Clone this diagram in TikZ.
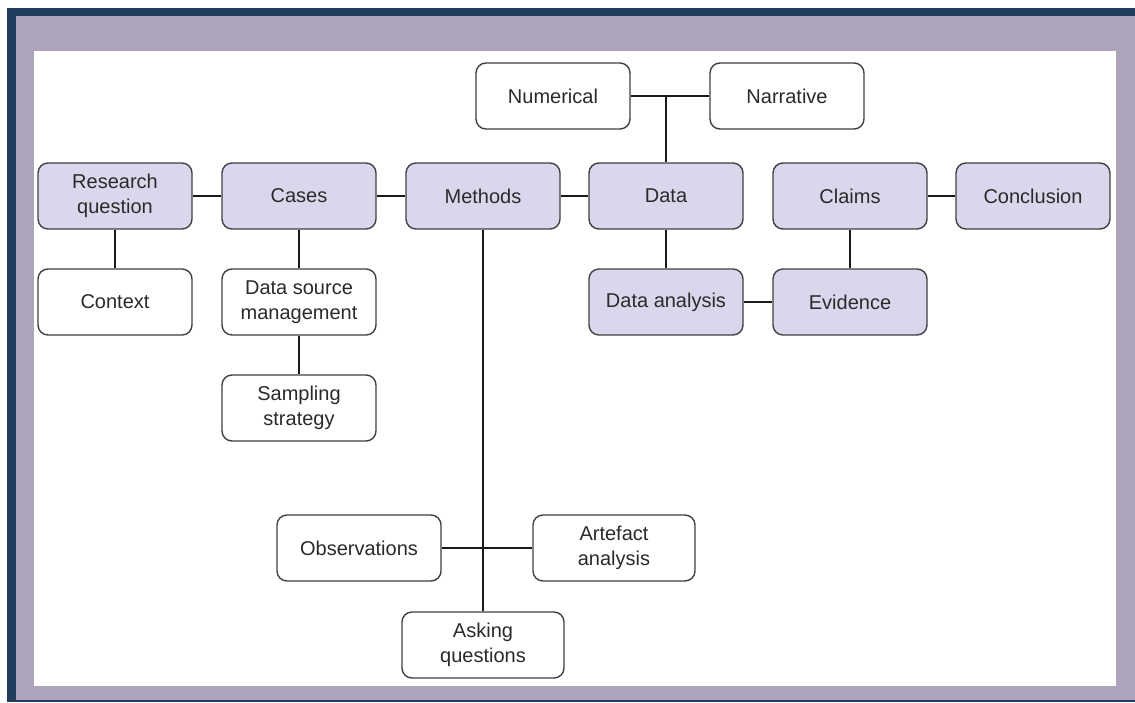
\documentclass[tikz,border=0pt]{standalone}
\usepackage{fontspec}
\setmainfont{Liberation Sans}
\definecolor{navy}{HTML}{223E5E}
\definecolor{framecol}{HTML}{ADA3BB}
\definecolor{keyfill}{HTML}{DCD6EC}
\definecolor{boxline}{HTML}{404040}
\definecolor{txt}{HTML}{2A2A2A}
\definecolor{linecol}{HTML}{1A1A1A}
\begin{document}
\begin{tikzpicture}[x=1pt,y=-1pt,
  box/.style={draw=boxline, line width=1.4pt, rounded corners=10pt,
    minimum width=154pt, minimum height=66pt, align=center, inner sep=0pt,
    font=\fontsize{20}{25}\selectfont, text=txt},
  keybox/.style={box, fill=keyfill},
  plainbox/.style={box, fill=white},
  link/.style={line width=2.6pt, draw=linecol}]
\useasboundingbox (0,0) rectangle (1135,702);
% frame
\fill[navy] (7,8) rectangle (1135,702);
\fill[framecol] (16,16) rectangle (1135,700);
\fill[white] (34,51) rectangle (1116,686);

% main row
\node[keybox] (rq) at (115,196) {Research\\question};
\node[keybox] (cases) at (299,196) {Cases};
\node[keybox] (methods) at (483,196) {Methods};
\node[keybox] (data) at (666,196) {Data};
\node[keybox] (claims) at (850,196) {Claims};
\node[keybox] (concl) at (1033,196) {Conclusion};

% data types
\node[plainbox] (num) at (553,96) {Numerical};
\node[plainbox] (narr) at (787,96) {Narrative};

% second row
\node[plainbox] (context) at (115,302) {Context};
\node[plainbox] (dsm) at (299,302) {Data source\\management};
\node[plainbox] (sampling) at (299,408) {Sampling\\strategy};
\node[keybox] (analysis) at (666,302) {Data analysis};
\node[keybox] (evidence) at (850,302) {Evidence};

% methods branch
\node[plainbox, minimum width=164pt] (obs) at (359,548) {Observations};
\node[plainbox, minimum width=162pt] (artefact) at (614,548) {Artefact\\analysis};
\node[plainbox, minimum width=162pt] (asking) at (483,645) {Asking\\questions};

\coordinate (j) at (666,96);

% connectors
\draw[link] (rq) -- (cases);
\draw[link] (cases) -- (methods);
\draw[link] (methods) -- (data);
\draw[link] (claims) -- (concl);
\draw[link] (rq) -- (context);
\draw[link] (cases) -- (dsm);
\draw[link] (dsm) -- (sampling);
\draw[link] (data) -- (analysis);
\draw[link] (analysis) -- (evidence);
\draw[link] (evidence) -- (claims);
\draw[link] (num) -- (narr);
\draw[link] (j) -- (data);
\draw[link] (methods) -- (asking);
\draw[link] (obs) -- (artefact);
\end{tikzpicture}
\end{document}
